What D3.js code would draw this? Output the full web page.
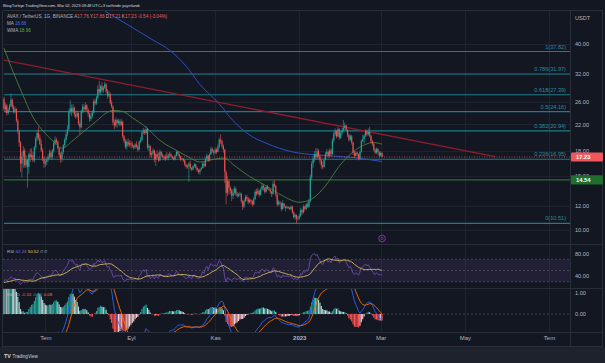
<!DOCTYPE html>
<html>
<head>
<meta charset="utf-8">
<script src="https://cdn.jsdelivr.net/npm/d3@7"></script>
<style>
html, body { margin: 0; padding: 0; background: #131722; }
svg { display: block; font-family: "Liberation Sans", Arial, sans-serif; }
</style>
</head>
<body>
<svg id="chart" width="605" height="363"></svg>
<script>
// AVAX/USDT daily candles, 2022-06-01 .. 2023-03-02 (open = previous close)
var firstDay = "2022-06-01";
var firstOpen = 26.6;
var closes = [
  24.6,25.3,23.9,24.5,25.2,26.4,25.0,24.2,24.6,22.6,20.9,19.2,16.4,17.3,18.1,16.2,16.9,16.0,17.6,17.2,17.5,16.8,18.5,19.8,20.6,19.9,19.0,18.1,17.0,16.4,
  16.6,16.9,17.3,17.8,17.2,18.0,19.1,19.6,19.3,18.4,17.5,17.0,17.9,18.8,19.6,20.4,21.2,24.1,24.8,24.2,24.9,23.7,23.3,23.9,22.1,21.5,24.2,25.0,24.6,25.3,24.5,
  23.8,22.9,23.4,24.0,26.1,25.7,26.8,28.6,27.9,29.2,28.3,28.9,29.6,28.1,27.2,27.6,25.8,25.1,22.3,21.8,22.7,22.2,22.5,21.9,22.4,20.1,19.4,18.6,19.3,18.9,19.1,
  18.9,18.7,18.5,18.9,18.6,18.2,19.3,19.6,20.7,21.0,20.6,21.2,18.5,18.7,17.5,17.7,18.1,16.9,17.6,17.2,16.8,17.9,17.5,17.2,17.0,17.3,17.1,17.5,17.6,17.3,
  17.1,16.9,17.4,17.9,17.6,17.3,16.9,17.0,16.8,16.3,16.0,16.1,16.4,15.9,15.7,16.1,16.3,15.9,15.6,15.4,15.7,15.9,16.4,16.1,17.0,17.4,16.8,17.6,18.3,18.0,17.8,
  18.2,17.9,18.6,19.6,19.4,18.7,18.2,15.4,13.2,14.4,13.7,13.4,12.9,13.2,13.6,13.1,12.9,13.0,13.1,12.4,11.9,12.4,12.8,12.6,12.3,12.5,12.4,12.1,12.6,13.3,
  13.1,13.4,13.0,13.5,13.9,13.7,13.3,13.8,13.6,13.5,13.3,13.1,14.1,13.9,13.0,12.1,12.3,12.2,11.7,12.2,11.9,11.8,11.9,11.8,11.7,11.9,11.4,11.0,11.2,10.9,10.9,
  11.1,11.6,11.4,11.9,11.7,12.1,11.9,12.4,14.8,16.4,17.0,17.6,17.2,18.0,17.3,16.8,16.2,16.0,16.9,17.6,17.9,17.4,18.1,17.6,19.5,20.4,20.9,20.1,21.2,19.9,20.6,
  21.0,21.4,21.8,21.1,20.3,19.6,20.1,19.2,17.8,17.4,17.8,17.6,17.0,17.9,19.4,19.7,20.2,20.9,20.4,20.8,20.2,19.4,19.0,18.2,17.8,18.3,17.9,17.4,
  17.76,17.23
];
var highs = [
  27.0,25.8,25.6,24.9,25.6,27.7,26.7,25.4,25.1,24.8,22.9,21.1,19.4,17.9,18.7,18.4,17.5,17.0,17.8,18.3,18.4,17.9,18.7,20.1,21.1,21.6,20.4,19.6,18.4,17.3,
  17.0,17.2,17.6,18.2,18.1,18.3,19.5,20.1,19.9,19.5,18.6,17.8,18.2,19.0,19.9,20.8,21.8,24.6,26.3,25.5,25.6,25.1,24.3,24.4,24.0,22.6,24.5,25.6,25.5,25.9,25.6,
  24.8,24.0,23.9,24.4,26.5,26.6,27.2,29.4,30.4,29.6,30.1,29.3,30.2,29.9,28.6,28.3,27.9,26.3,25.3,22.8,23.1,22.9,22.9,22.8,22.9,22.6,20.3,19.7,19.6,19.8,19.5,
  19.4,19.3,18.9,19.1,19.4,18.9,19.5,20.0,20.9,21.4,21.2,21.7,21.4,19.0,18.8,18.0,18.4,18.2,17.8,18.1,17.8,18.2,18.0,17.7,17.4,17.6,17.9,17.7,17.9,17.8,
  17.4,17.3,17.6,18.1,18.0,17.7,17.4,17.1,17.1,16.9,16.4,16.3,16.6,16.8,16.0,16.2,16.5,16.4,16.0,15.8,15.8,16.0,16.6,16.6,17.2,17.7,17.5,17.8,18.6,18.5,18.2,
  18.5,18.4,18.9,19.9,20.4,19.6,18.9,18.3,15.6,14.9,14.6,13.9,13.6,13.6,13.9,13.8,13.3,13.2,13.3,13.2,12.5,12.6,13.0,13.0,12.8,12.7,12.6,12.5,12.8,13.5,
  13.6,13.7,13.5,13.7,14.2,14.0,13.8,13.9,14.0,13.7,13.6,13.4,14.4,14.5,14.0,13.1,12.5,12.4,12.3,12.5,12.2,12.0,12.0,11.9,11.9,12.0,12.0,11.5,11.3,11.2,11.1,
  11.3,11.8,11.7,12.1,12.0,12.2,12.3,12.6,15.1,16.7,17.4,18.0,18.4,18.4,18.3,17.6,17.0,16.6,17.1,17.9,18.3,18.1,18.4,18.3,19.8,20.8,21.3,21.1,21.5,21.4,20.9,
  21.4,22.7,22.3,21.9,21.2,20.5,20.4,20.3,19.3,18.0,18.0,17.9,17.7,18.1,19.6,20.3,20.5,21.2,21.1,21.3,21.6,20.3,19.6,19.2,18.4,18.5,18.4,18.0,
  18.0,17.86
];
var lows = [
  24.2,24.0,23.5,23.6,24.1,25.0,24.6,23.8,23.9,22.3,20.5,18.6,15.4,14.8,15.9,15.9,15.9,13.7,15.2,16.6,16.9,16.6,16.5,18.2,19.4,19.5,18.8,17.9,16.7,15.9,
  16.0,16.2,16.6,17.0,16.9,16.9,17.8,18.8,19.0,18.2,17.2,16.5,16.6,17.6,18.5,19.2,20.1,21.0,23.7,23.4,23.9,23.2,22.9,23.0,21.8,20.4,21.3,23.9,24.1,24.3,24.1,
  23.2,22.4,22.5,23.0,23.8,25.3,25.4,26.5,27.4,27.3,27.9,27.8,28.6,27.7,26.6,26.9,25.5,24.8,21.8,21.2,21.5,21.4,21.9,21.6,21.7,19.8,19.1,18.3,18.2,18.6,18.6,
  18.4,18.4,18.2,18.3,18.4,17.9,18.1,19.1,19.4,20.4,20.3,20.4,18.2,18.0,17.2,17.1,17.5,16.6,16.1,17.0,16.6,16.7,17.2,17.1,16.8,16.7,16.9,16.8,17.2,17.1,
  16.9,16.8,16.8,17.3,17.4,17.1,16.7,16.8,16.6,16.1,15.8,15.8,14.3,15.7,15.5,15.6,15.9,15.7,15.4,15.2,15.1,15.6,15.8,15.9,16.0,16.8,16.6,16.7,17.5,17.8,17.4,
  17.6,17.6,17.8,18.4,19.0,18.4,17.8,14.2,12.1,12.9,13.0,13.1,12.4,12.6,13.0,12.9,12.7,12.8,12.8,12.2,11.6,11.8,12.3,12.4,12.1,12.2,12.1,11.9,12.0,12.5,
  12.9,13.0,12.8,12.9,13.4,13.4,13.1,13.2,13.5,13.4,13.1,12.8,13.0,13.7,12.8,11.9,12.0,12.0,11.5,11.6,11.8,11.5,11.7,11.7,11.6,11.6,11.3,10.9,10.8,10.5,10.7,
  10.8,11.0,11.2,11.3,11.5,11.6,11.8,11.8,12.3,14.5,15.9,16.6,16.9,17.0,17.0,16.4,15.8,15.7,15.9,16.8,17.3,17.1,17.2,17.3,17.5,19.2,20.1,19.8,20.0,19.6,19.7,
  20.3,20.8,21.0,20.8,20.0,19.3,19.4,18.9,17.5,17.1,17.3,17.3,16.8,16.9,17.8,19.2,19.0,20.0,20.1,20.2,19.9,19.1,18.7,18.0,17.6,17.6,17.5,17.2,
  17.3,17.21
];
// closes before the visible range, only used to seed RSI / MACD
var warmupCloses = [
  80,78,82,80,76,74,73,71,69,65,66,68,63,60,
  63,64,62,67,58,56,54,50,40,39,30.5,26.5,29.5,31,33,29.5,30.5,27,29,27.5,28,29.5,27.3,26.8,26.5,24,23,24.5,25.2,28,26.6
];

// moving averages: [date, value]
var maBlue = [["2022-08-13",51.2],["2022-09-17",41.2],["2022-09-29",38.2],["2022-10-11",33.9],["2022-10-21",29.6],
  ["2022-11-04",25.6],["2022-11-14",22.6],["2022-11-26",20.3],["2022-12-08",19.1],["2022-12-27",17.9],
  ["2023-01-14",17.5],["2023-02-07",17.2],["2023-03-02",16.66]];
var wmaGreen = [["2022-06-01",38.8],["2022-06-07",33.0],["2022-06-14",27.8],["2022-06-22",23.2],["2022-06-29",21.0],
  ["2022-07-06",19.5],["2022-07-13",18.4],["2022-07-21",19.5],["2022-07-29",20.9],["2022-08-07",22.5],
  ["2022-08-14",23.9],["2022-08-19",24.4],["2022-08-26",24.2],["2022-09-02",23.1],["2022-09-12",21.5],
  ["2022-09-22",19.5],["2022-10-04",18.1],["2022-10-13",17.2],["2022-10-21",16.6],["2022-10-30",16.9],
  ["2022-11-08",17.1],["2022-11-14",16.3],["2022-11-26",14.9],["2022-12-08",13.9],["2022-12-20",12.9],
  ["2023-01-01",12.3],["2023-01-10",12.6],["2023-01-20",13.9],["2023-01-30",16.1],["2023-02-09",17.9],
  ["2023-02-19",19.0],["2023-02-23",19.2],["2023-03-02",18.96]];

var trendLine = [["2022-06-01",35.5],["2023-05-23",17.27]];
var fibRatios = ["1","0.786","0.618","0.5","0.382","0.236","0"];
var fibValues = [37.82,31.97,27.39,24.16,20.94,16.95,10.51];
var supportLevel = 14.54;
var lastPrice = 17.23;

var priceTicks = [40,32,26,22,18,15,12,10];
var rsiTicks = [80,40];
var macdTicks = [1,0];
var timeTickDates = ["2022-07-01","2022-09-01","2022-11-01","2023-01-01","2023-03-01","2023-05-01","2023-07-01"];
var timeTickLabels = ["Tem","Eyl","Kas","2023","Mar","May","Tem"];
var eventDate = "2023-03-02";

// ---------------------------------------------------------------
var W = 605, H = 363;
var plotL = 3, plotR = 570;
var mainTop = 11, mainBot = 244, rsiTop = 245, rsiBot = 288, macdTop = 289, macdBot = 332, axisBot = 347;
var upCol = "#26a69a", downCol = "#ef5350";

var svg = d3.select("#chart");
var parse = d3.utcParse("%Y-%m-%d");
var day0 = parse(firstDay);
function dayDate(i) { return d3.utcDay.offset(day0, i); }

var x = d3.scaleUtc().domain([parse("2022-06-01"), parse("2023-07-01")]).range([4, 549]);
var y = d3.scaleLog().domain([10, 40]).range([230, 44]);
var yRsi = d3.scaleLinear().domain([30, 70]).range([281.7, 259.3]);
var yMacd = d3.scaleLinear().domain([0, 1]).range([314, 292.3]);

var candles = closes.map(function (c, i) {
  var o = i === 0 ? firstOpen : closes[i - 1];
  return { date: dayDate(i), o: o, c: c, h: Math.max(highs[i], o, c), l: Math.min(lows[i], o, c) };
});

// indicators
var all = warmupCloses.concat(closes);
function rsiCalc(v, n) {
  var out = v.map(function () { return null; }), ag = 0, al = 0;
  for (var i = 1; i < v.length; i++) {
    var ch = v[i] - v[i - 1], g = Math.max(ch, 0), l = Math.max(-ch, 0);
    if (i <= n) { ag += g / n; al += l / n; if (i === n) out[i] = 100 - 100 / (1 + ag / al); }
    else { ag = (ag * (n - 1) + g) / n; al = (al * (n - 1) + l) / n; out[i] = al === 0 ? 100 : 100 - 100 / (1 + ag / al); }
  }
  return out;
}
function sma(v, n) {
  return v.map(function (d, i) {
    if (i < n - 1) return null;
    var s = v.slice(i - n + 1, i + 1);
    if (s.some(function (e) { return e == null; })) return null;
    return d3.mean(s);
  });
}
function ema(v, n) {
  var k = 2 / (n + 1), prev = v[0];
  return v.map(function (d, i) { prev = i === 0 ? d : d * k + prev * (1 - k); return prev; });
}
var rsiAll = rsiCalc(all, 14), rsiMaAll = sma(rsiAll, 14);
var e12 = ema(all, 12), e26 = ema(all, 26);
var macdAll = e12.map(function (d, i) { return d - e26[i]; });
var sigAll = ema(macdAll, 9);
var off = warmupCloses.length;
var ind = closes.map(function (c, i) {
  var k = i + off;
  return { date: dayDate(i), rsi: rsiAll[k], rsiMa: rsiMaAll[k], macd: macdAll[k], sig: sigAll[k],
           hist: macdAll[k] - sigAll[k], prevHist: macdAll[k - 1] - sigAll[k - 1] };
});

// backgrounds
svg.append("rect").attr("width", W).attr("height", H).attr("fill", "#131722");
svg.append("rect").attr("x", 0).attr("y", axisBot).attr("width", W).attr("height", H - axisBot).attr("fill", "#1e222d");

var defs = svg.append("defs");
function clip(id, y0, y1) {
  defs.append("clipPath").attr("id", id).append("rect").attr("x", plotL).attr("y", y0).attr("width", plotR - plotL).attr("height", y1 - y0);
}
clip("cMain", mainTop, mainBot); clip("cRsi", rsiTop, rsiBot); clip("cMacd", macdTop, macdBot);

// grid
var grid = svg.append("g").attr("stroke", "#1f2330").attr("stroke-width", 1);
timeTickDates.forEach(function (d) {
  var gx = Math.round(x(parse(d))) + 0.5;
  grid.append("line").attr("x1", gx).attr("x2", gx).attr("y1", mainTop).attr("y2", macdBot);
});
priceTicks.forEach(function (p) {
  var gy = Math.round(y(p)) + 0.5;
  grid.append("line").attr("x1", plotL).attr("x2", plotR).attr("y1", gy).attr("y2", gy);
});

// main panel
var main = svg.append("g").attr("clip-path", "url(#cMain)");

main.selectAll("line.fib").data(fibValues).enter().append("line")
  .attr("x1", 4).attr("x2", plotR)
  .attr("y1", function (d) { return y(d); }).attr("y2", function (d) { return y(d); })
  .attr("stroke", "#1c7d8a").attr("stroke-width", 1.1);
main.selectAll("text.fib").data(fibValues).enter().append("text")
  .attr("x", 566).attr("y", function (d) { return y(d) - 3; })
  .attr("text-anchor", "end").attr("font-size", 5.6).attr("fill", "#2a8d9c")
  .text(function (d, i) { return fibRatios[i] + "(" + d3.format(".2f")(d) + ")"; });

main.append("line").attr("x1", 4).attr("x2", plotR)
  .attr("y1", y(supportLevel)).attr("y2", y(supportLevel))
  .attr("stroke", "#2c6b35").attr("stroke-width", 1.3);

main.append("line").attr("x1", x(parse(trendLine[0][0]))).attr("y1", y(trendLine[0][1]))
  .attr("x2", x(parse(trendLine[1][0]))).attr("y2", y(trendLine[1][1]))
  .attr("stroke", "#8f1d2c").attr("stroke-width", 1.3);

var maLine = d3.line().curve(d3.curveMonotoneX).x(function (d) { return x(parse(d[0])); }).y(function (d) { return y(d[1]); });
main.append("path").datum(maBlue).attr("d", maLine).attr("fill", "none").attr("stroke", "#2d4fc4").attr("stroke-width", 1);
main.append("path").datum(wmaGreen).attr("d", maLine).attr("fill", "none").attr("stroke", "#4e7d3e").attr("stroke-width", 0.9);

var cg = main.append("g");
cg.selectAll("line.wick").data(candles).enter().append("line")
  .attr("x1", function (d) { return x(d.date); }).attr("x2", function (d) { return x(d.date); })
  .attr("y1", function (d) { return y(d.h); }).attr("y2", function (d) { return y(d.l); })
  .attr("stroke", function (d) { return d.c >= d.o ? upCol : downCol; }).attr("stroke-width", 0.6);
cg.selectAll("rect").data(candles).enter().append("rect")
  .attr("x", function (d) { return x(d.date) - 0.55; }).attr("width", 1.1)
  .attr("y", function (d) { return y(Math.max(d.o, d.c)); })
  .attr("height", function (d) { return Math.max(0.6, y(Math.min(d.o, d.c)) - y(Math.max(d.o, d.c))); })
  .attr("fill", function (d) { return d.c >= d.o ? upCol : downCol; });

main.append("line").attr("x1", 4).attr("x2", plotR)
  .attr("y1", y(lastPrice)).attr("y2", y(lastPrice))
  .attr("stroke", "#ef5350").attr("stroke-width", 0.7).attr("stroke-dasharray", "1,1.5");

// event marker
var ev = svg.append("g").attr("transform", "translate(" + x(parse(eventDate)) + ",238.5)");
ev.append("circle").attr("r", 3.3).attr("fill", "#1a1528").attr("stroke", "#9c3fc0").attr("stroke-width", 0.8);
ev.append("circle").attr("r", 1.1).attr("fill", "none").attr("stroke", "#9c3fc0").attr("stroke-width", 0.6);

// RSI panel
var rsiG = svg.append("g").attr("clip-path", "url(#cRsi)");
rsiG.append("rect").attr("x", plotL).attr("width", plotR - plotL)
  .attr("y", yRsi(70)).attr("height", yRsi(30) - yRsi(70)).attr("fill", "rgba(126,87,194,0.13)");
[70, 50, 30].forEach(function (v) {
  rsiG.append("line").attr("x1", plotL).attr("x2", plotR).attr("y1", yRsi(v)).attr("y2", yRsi(v))
    .attr("stroke", "#5d606b").attr("stroke-width", 0.6).attr("stroke-dasharray", "2,2");
});
rsiG.append("path").datum(ind.filter(function (d) { return d.rsi != null; }))
  .attr("d", d3.line().x(function (d) { return x(d.date); }).y(function (d) { return yRsi(d.rsi); }))
  .attr("fill", "none").attr("stroke", "#7353b8").attr("stroke-width", 0.8);
rsiG.append("path").datum(ind.filter(function (d) { return d.rsiMa != null; }))
  .attr("d", d3.line().x(function (d) { return x(d.date); }).y(function (d) { return yRsi(d.rsiMa); }))
  .attr("fill", "none").attr("stroke", "#c9b155").attr("stroke-width", 1);

// MACD panel
var mg = svg.append("g").attr("clip-path", "url(#cMacd)");
mg.append("line").attr("x1", plotL).attr("x2", plotR).attr("y1", yMacd(0)).attr("y2", yMacd(0))
  .attr("stroke", "#5d606b").attr("stroke-width", 0.6).attr("stroke-dasharray", "2,2");
mg.selectAll("rect").data(ind).enter().append("rect")
  .attr("x", function (d) { return x(d.date) - 0.55; }).attr("width", 1.1)
  .attr("y", function (d) { return Math.min(yMacd(0), yMacd(d.hist)); })
  .attr("height", function (d) { return Math.abs(yMacd(d.hist) - yMacd(0)); })
  .attr("fill", function (d) {
    if (d.hist >= 0) return d.hist > d.prevHist ? "#26a69a" : "#b2dfdb";
    return d.hist > d.prevHist ? "#ffcdd2" : "#ff5252";
  });
mg.append("path").datum(ind).attr("d", d3.line().x(function (d) { return x(d.date); }).y(function (d) { return yMacd(d.macd); }))
  .attr("fill", "none").attr("stroke", "#2962ff").attr("stroke-width", 0.9);
mg.append("path").datum(ind).attr("d", d3.line().x(function (d) { return x(d.date); }).y(function (d) { return yMacd(d.sig); }))
  .attr("fill", "none").attr("stroke", "#ff6d00").attr("stroke-width", 0.9);

// separators / frame
var sep = svg.append("g").attr("stroke", "#2a2e39").attr("stroke-width", 1);
[mainTop - 0.5, rsiTop - 0.5, macdTop - 0.5, macdBot + 0.5, axisBot - 0.5].forEach(function (v) {
  sep.append("line").attr("x1", plotL).attr("x2", W - 2).attr("y1", v).attr("y2", v);
});
sep.append("line").attr("x1", plotR + 0.5).attr("x2", plotR + 0.5).attr("y1", mainTop).attr("y2", axisBot);
sep.append("line").attr("x1", plotL - 0.5).attr("x2", plotL - 0.5).attr("y1", mainTop).attr("y2", axisBot);
sep.append("line").attr("x1", W - 2.5).attr("x2", W - 2.5).attr("y1", mainTop).attr("y2", axisBot);

// axes
function styleAxis(g, size) {
  g.select(".domain").remove();
  g.selectAll("text").attr("fill", "#b2b5be").attr("font-size", size).attr("font-family", "Liberation Sans, Arial, sans-serif");
}
svg.append("g").attr("transform", "translate(" + plotR + ",0)")
  .call(d3.axisRight(y).tickValues(priceTicks).tickSize(0).tickPadding(5).tickFormat(d3.format(".2f")))
  .call(styleAxis, 5.6);
svg.append("g").attr("transform", "translate(" + plotR + ",0)")
  .call(d3.axisRight(yRsi).tickValues(rsiTicks).tickSize(0).tickPadding(5).tickFormat(d3.format(".2f")))
  .call(styleAxis, 5.6);
svg.append("g").attr("transform", "translate(" + plotR + ",0)")
  .call(d3.axisRight(yMacd).tickValues(macdTicks).tickSize(0).tickPadding(5).tickFormat(d3.format(".2f")))
  .call(styleAxis, 5.6);
var xa = svg.append("g").attr("transform", "translate(0," + (macdBot + 4) + ")")
  .call(d3.axisBottom(x).tickValues(timeTickDates.map(parse)).tickSize(0).tickPadding(0)
    .tickFormat(function (d, i) { return timeTickLabels[i]; }))
  .call(styleAxis, 6);
xa.selectAll("text").attr("font-weight", function (d, i) { return timeTickLabels[i] === "2023" ? "bold" : null; });

svg.append("text").attr("x", 575).attr("y", 20).attr("font-size", 5.6).attr("fill", "#b2b5be").text("USDT");

// price labels on the scale
function priceTag(v, col) {
  var g = svg.append("g").attr("transform", "translate(" + (plotR + 1) + "," + y(v) + ")");
  g.append("rect").attr("x", 0).attr("y", -4.6).attr("width", 32).attr("height", 9.2).attr("rx", 1).attr("fill", col);
  g.append("text").attr("x", 5).attr("y", 2).attr("font-size", 5.8).attr("font-weight", "bold").attr("fill", "#ffffff").text(d3.format(".2f")(v));
}
priceTag(lastPrice, "#f0575a");
priceTag(supportLevel, "#1f6e2d");

// header and legends
svg.append("text").attr("x", 3).attr("y", 7).attr("font-size", 4.2).attr("fill", "#d1d4dc")
  .attr("textLength", 137).text("BitayTurkiye TradingView.com, Mar 02, 2023 09:48 UTC+3 tarihinde yayınlandı");

var leg = svg.append("text").attr("x", 7).attr("y", 17.5).attr("font-size", 4.6).attr("fill", "#b2b5be");
leg.append("tspan").text("AVAX / TetherUS, 1G, BINANCE  ");
[["A", "17.76"], ["Y", "17.86"], ["D", "17.21"], ["K", "17.23"]].forEach(function (p) {
  leg.append("tspan").attr("fill", "#b2b5be").text(" " + p[0]);
  leg.append("tspan").attr("fill", "#f05a5d").text(p[1]);
});
leg.append("tspan").attr("fill", "#f05a5d").text("  -0.54 (-3.04%)");

var ma1 = svg.append("text").attr("x", 7).attr("y", 25).attr("font-size", 4.6).attr("fill", "#b2b5be");
ma1.append("tspan").text("MA ");
ma1.append("tspan").attr("fill", "#4a72f0").text("16.66");
var ma2 = svg.append("text").attr("x", 7).attr("y", 32).attr("font-size", 4.6).attr("fill", "#b2b5be");
ma2.append("tspan").text("WMA ");
ma2.append("tspan").attr("fill", "#5fa84b").text("18.96");

var rl = svg.append("text").attr("x", 7).attr("y", 252.5).attr("font-size", 4.4).attr("fill", "#b2b5be");
rl.append("tspan").text("RSI ");
rl.append("tspan").attr("fill", "#8f6fd6").text("42.23 ");
rl.append("tspan").attr("fill", "#111").attr("style", "paint-order:stroke").attr("stroke", "#d8c660").attr("stroke-width", 0).text("");
rl.append("tspan").attr("fill", "#e0cf6a").text("50.52");
rl.append("tspan").text("  \u2205  \u2205");

var ml = svg.append("text").attr("x", 7).attr("y", 295.5).attr("font-size", 4.4).attr("fill", "#b2b5be");
ml.append("tspan").text("MACD ");
ml.append("tspan").attr("fill", "#ff5252").text("-0.34 ");
ml.append("tspan").attr("fill", "#4a72f0").text("-0.26 ");
ml.append("tspan").attr("fill", "#ff7a1a").text("0.08");

// footer logo
var ft = svg.append("g").attr("transform", "translate(4,358)");
ft.append("text").attr("x", 0).attr("y", 0).attr("font-size", 5.4).attr("font-weight", "bold").attr("fill", "#d1d4dc").text("TV");
ft.append("text").attr("x", 8.5).attr("y", 0).attr("font-size", 4.6).attr("fill", "#d1d4dc").text("TradingView");
</script>
</body>
</html>
